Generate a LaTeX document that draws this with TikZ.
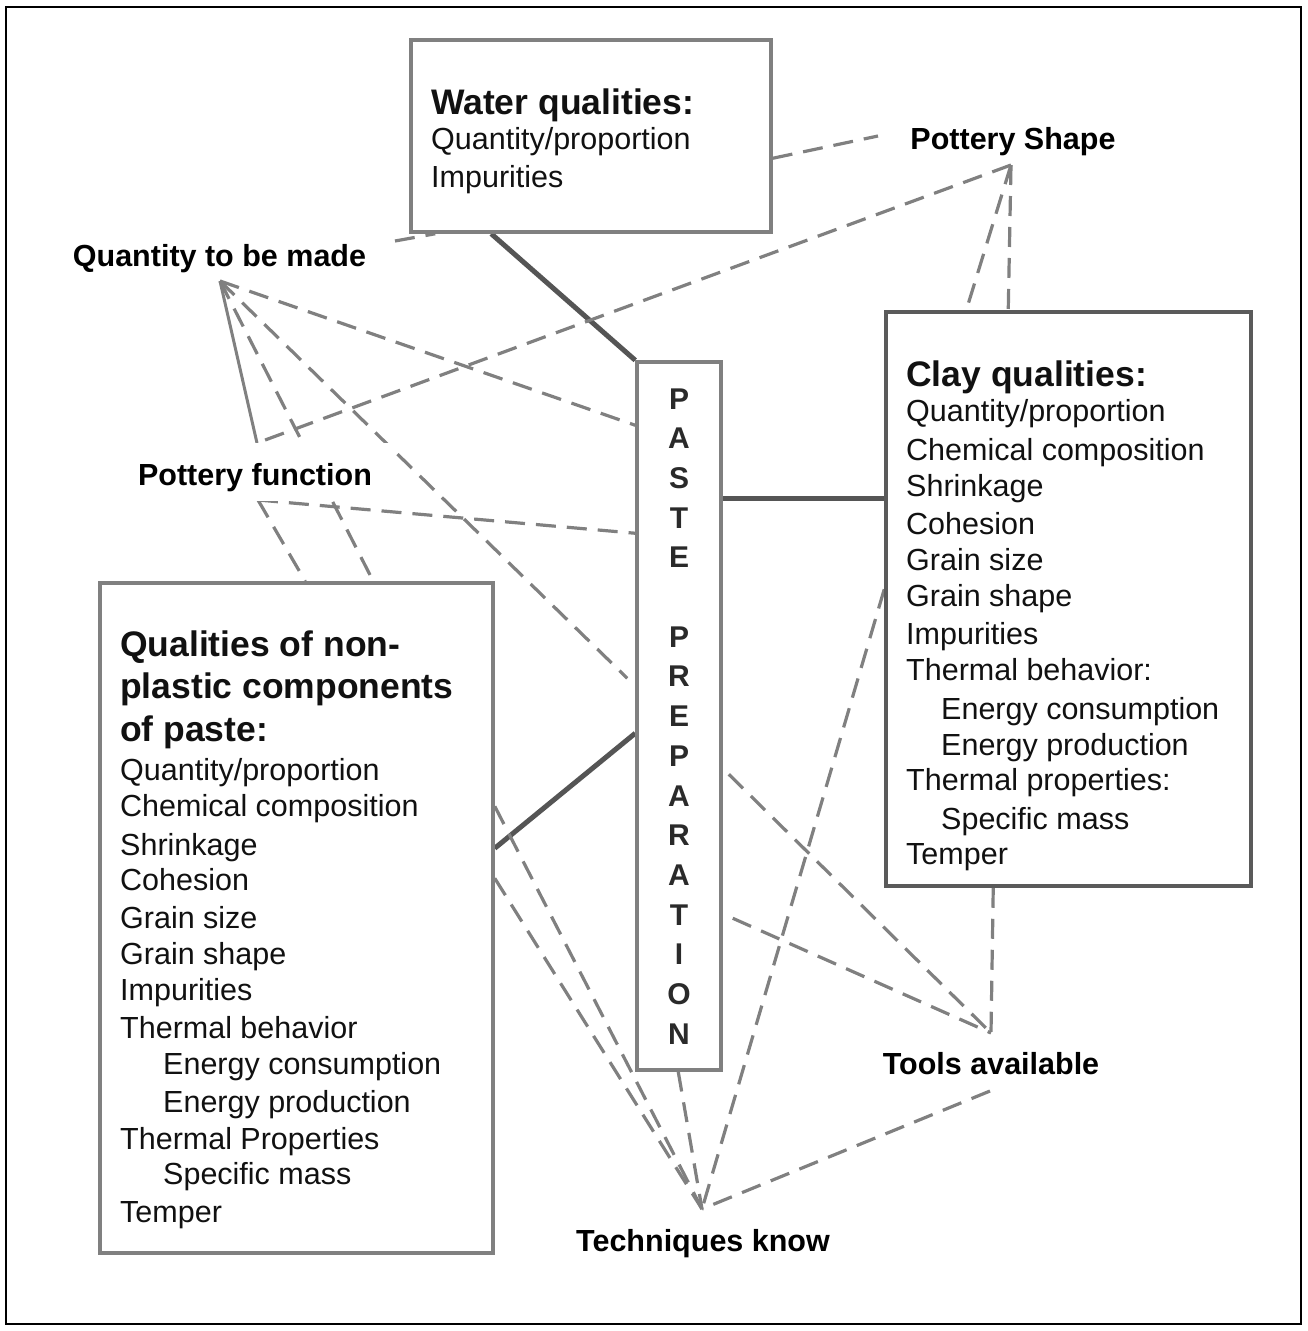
\documentclass[tikz,border=0pt]{standalone}
\usepackage{fontspec}
\setmainfont{Liberation Sans}
\usetikzlibrary{calc,backgrounds}
\definecolor{boxgray}{HTML}{808080}
\definecolor{claygray}{HTML}{5A5A5A}
\definecolor{solidgray}{HTML}{555555}
\definecolor{dashgray}{HTML}{808080}
\definecolor{txt}{HTML}{111111}
\definecolor{lettercol}{HTML}{2A2A2A}
\begin{document}
\begin{tikzpicture}[x=1pt,y=-1pt,
  boxnode/.style={draw=boxgray, line width=3.5pt, fill=white, rectangle, inner sep=0pt},
  body/.style={anchor=base west, inner sep=0pt, text=txt, font=\fontsize{30.5}{36}\selectfont},
  head/.style={anchor=base west, inner sep=0pt, text=txt, font=\fontsize{35.5}{42}\selectfont\bfseries},
  lbl/.style={anchor=base, inner sep=0pt, text=black, font=\fontsize{30.5}{36}\selectfont\bfseries},
  letter/.style={anchor=base, inner sep=0pt, text=lettercol, font=\fontsize{30}{34}\selectfont\bfseries},
  dashln/.style={draw=dashgray, line width=3.2pt, dash pattern=on 20pt off 11pt},
  thinln/.style={draw=dashgray, line width=3pt},
  conn/.style={draw=solidgray, line width=5pt}
]
\useasboundingbox (0,0) rectangle (1308,1331);
\draw[line width=2pt, black] (6,7) rectangle (1301,1324);

% boxes
\node[boxnode, minimum width=360pt, minimum height=192pt] (water) at (591,136) {};
\node[boxnode, minimum width=84pt, minimum height=708pt] (paste) at (679,716) {};
\node[boxnode, draw=claygray, minimum width=365pt, minimum height=574pt] (clay) at (1068.5,599) {};
\node[boxnode, minimum width=393pt, minimum height=670pt] (np) at (296.5,918) {};

% label attachment points
\coordinate (shapeL) at (878,136);
\coordinate (shapeB) at (1011,165);
\coordinate (qR) at (395,241);
\coordinate (qA) at (220,281);
\coordinate (fT) at (257,443);
\coordinate (fB) at (258,500);
\coordinate (tA) at (991,1033);
\coordinate (tB) at (990,1091);
\coordinate (kA) at (702,1209);

\begin{scope}[on background layer]
  % solid connectors
  \draw[conn] ($(water.south west)+(82,0)$) -- (paste.north west);
  \draw[conn] ($(paste.north east)+(0,138)$) -- ($(clay.north west)+(0,188)$);
  \draw[conn] ($(paste.north west)+(0,373)$) -- ($(np.north east)+(0,267)$);
  % dashed connectors
  \draw[dashln] ($(water.north east)+(0,120)$) -- (shapeL);
  \draw[dashln] (qR) -- ($(water.south west)+(26,0)$);
  \draw[dashln] (shapeB) -- (fT);
  \draw[dashln] (shapeB) -- ($(clay.north west)+(82,0)$);
  \draw[dashln] (shapeB) -- ($(clay.north west)+(124,0)$);
  \draw[thinln] (qA) -- (fT);
  \draw[dashln] (qA) -- ($(np.north west)+(275,0)$);
  \draw[dashln] (qA) -- ($(paste.north west)+(-8,318)$);
  \draw[dashln] (qA) -- ($(paste.north west)+(0,65)$);
  \draw[dashln] (fB) -- ($(np.north west)+(207,0)$);
  \draw[dashln] (fB) -- ($(paste.north west)+(0,173)$);
  \draw[dashln] ($(np.north east)+(0,225)$) -- (kA);
  \draw[dashln] ($(np.north east)+(0,297)$) -- (kA);
  \draw[dashln] ($(paste.south west)+(43,0)$) -- (kA);
  \draw[dashln] ($(clay.north west)+(0,279)$) -- (kA);
  \draw[dashln] (tB) -- (kA);
  \draw[dashln] ($(paste.north east)+(6,414)$) -- (tA);
  \draw[dashln] ($(paste.north east)+(10,558)$) -- (tA);
  \draw[dashln] ($(clay.south west)+(109,0)$) -- (tA);
\end{scope}

% water text
\node[head] (w0) at (431,114.5) {Water qualities:};
\node[body] (w1) at (431,149) {Quantity/proportion};
\node[body] (w2) at (431,187) {Impurities};

% paste letters
\foreach \ch/\k in {P/0,A/1,S/2,T/3,E/4,P/6,R/7,E/8,P/9,A/10,R/11,A/12,T/13,I/14,O/15,N/16}
  \node[letter] (pl\k) at (679,{409+39.7*\k}) {\ch};

% clay text
\node[head] (c0) at (906,386.5) {Clay qualities:};
\node[body] (c1) at (906,421) {Quantity/proportion};
\node[body] (c2) at (906,460) {Chemical composition};
\node[body] (c3) at (906,496) {Shrinkage};
\node[body] (c4) at (906,534) {Cohesion};
\node[body] (c5) at (906,570) {Grain size};
\node[body] (c6) at (906,606) {Grain shape};
\node[body] (c7) at (906,644) {Impurities};
\node[body] (c8) at (906,680) {Thermal behavior:};
\node[body] (c9) at (941,719) {Energy consumption};
\node[body] (c10) at (941,755) {Energy production};
\node[body] (c11) at (906,790) {Thermal properties:};
\node[body] (c12) at (941,829) {Specific mass};
\node[body] (c13) at (906,864) {Temper};

% non-plastic text
\node[head] (n0a) at (120,656.5) {Qualities of non-};
\node[head] (n0b) at (120,698.5) {plastic components};
\node[head] (n0c) at (120,741.5) {of paste:};
\node[body] (n1) at (120,780) {Quantity/proportion};
\node[body] (n2) at (120,816) {Chemical composition};
\node[body] (n3) at (120,855) {Shrinkage};
\node[body] (n4) at (120,890) {Cohesion};
\node[body] (n5) at (120,928) {Grain size};
\node[body] (n6) at (120,964) {Grain shape};
\node[body] (n7) at (120,1000) {Impurities};
\node[body] (n8) at (120,1038) {Thermal behavior};
\node[body] (n9) at (163,1074) {Energy consumption};
\node[body] (n10) at (163,1112) {Energy production};
\node[body] (n11) at (120,1149) {Thermal Properties};
\node[body] (n12) at (163,1184) {Specific mass};
\node[body] (n13) at (120,1222) {Temper};

% free labels
\node[lbl] (shape) at (1013,149) {Pottery Shape};
\node[lbl] (qty) at (219.5,266) {Quantity to be made};
\node[lbl, fill=white, inner xsep=20pt, text height=42pt, text depth=16pt] (func) at (255,485) {Pottery function};
\node[lbl] (tools) at (991,1074) {Tools available};
\node[lbl] (tech) at (703,1251) {Techniques know};
\end{tikzpicture}
\end{document}
